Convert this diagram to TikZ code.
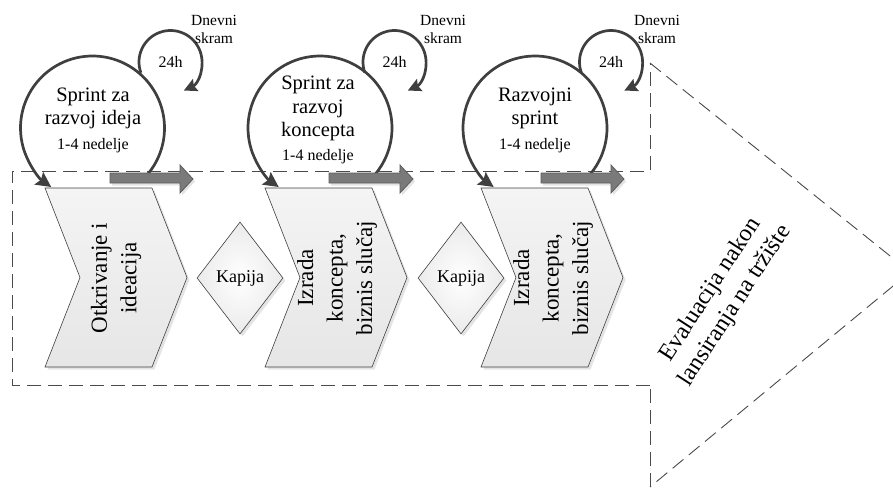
\documentclass[tikz,border=0pt]{standalone}
\usepackage{fontspec}
\setmainfont{Liberation Serif}
\usetikzlibrary{arrows.meta,shadows,calc,shapes.geometric}

\definecolor{ink}{HTML}{3F3F3F}
\definecolor{dashgray}{HTML}{4A4A4A}
\definecolor{barfill}{HTML}{7A7A7A}
\definecolor{baredge}{HTML}{5C5C5C}
\definecolor{panelhi}{HTML}{F4F4F4}
\definecolor{panello}{HTML}{E6E6E6}

\begin{document}
\begin{tikzpicture}[x=1pt, y=-1pt,
  outline/.style={draw=dashgray, line width=0.9pt, dash pattern=on 14pt off 7pt},
  cyclearc/.style={draw=ink, line width=2.7pt, -{Stealth[length=15pt,width=15pt,inset=2.5pt]}},
  scrumarc/.style={draw=ink, line width=2.7pt, -{Stealth[length=13pt,width=13pt,inset=2pt]}},
  panel/.style={draw=ink, line width=0.6pt, top color=panelhi, bottom color=panello,
    drop shadow={shadow xshift=2.5pt, shadow yshift=-2.5pt, opacity=0.3, fill=gray!70}},
  gate/.style={diamond, draw=ink, line width=0.6pt, inner color=white, outer color=gray!16,
    minimum width=86, minimum height=112, inner sep=1pt,
    font=\fontsize{18}{21}\selectfont,
    drop shadow={shadow xshift=2.5pt, shadow yshift=-2.5pt, opacity=0.3, fill=gray!70}},
  bar/.style={draw=baredge, line width=0.8pt, fill=barfill,
    drop shadow={shadow xshift=2pt, shadow yshift=-2.5pt, opacity=0.3, fill=gray!70}},
  sprinttxt/.style={align=center, inner sep=0pt, font=\fontsize{20.5}{23.5}\selectfont},
  durtxt/.style={inner sep=0pt, font=\fontsize{16}{19}\selectfont},
  dailytxt/.style={align=center, inner sep=0pt, font=\fontsize{15.5}{18}\selectfont},
  hourtxt/.style={inner sep=0pt, font=\fontsize{16}{19}\selectfont},
  phasetxt/.style={align=center, rotate=90, inner sep=0pt, font=\fontsize{23}{29.5}\selectfont},
]

\useasboundingbox (0,0) rectangle (893,488);
\clip (0,0) rectangle (893,488);

% dashed block arrow enclosing the whole process
\coordinate (headtop) at (650,63);
\coordinate (headtip) at (910,272);
\coordinate (headbot) at (650,487);
\draw[outline] (650,385) -- (12,385) -- (12,171) -- (650,171) -- (headtop);
\draw[outline] (headtop) -- (headtip);
\draw[outline] (headtip) -- (headbot);
\draw[outline] (headbot) -- (650,385);

% phase chevrons
\path[panel] (45,188) -- (152,188) -- (187,277.5) -- (152,367) -- (45,367) -- (80,277.5) -- cycle;
\path[panel] (265,188) -- (372,188) -- (407,277.5) -- (372,367) -- (265,367) -- (300,277.5) -- cycle;
\path[panel] (481,188) -- (588,188) -- (623,277.5) -- (588,367) -- (481,367) -- (516,277.5) -- cycle;

\node[phasetxt] (phase1) at (116,278) {Otkrivanje i\\ideacija};
\node[phasetxt] (phase2) at (337,278) {Izrada\\koncepta,\\biznis slučaj};
\node[phasetxt] (phase3) at (553,278) {Izrada\\koncepta,\\biznis slučaj};

% gates
\node[gate] (gate1) at (240,278) {Kapija};
\node[gate] (gate2) at (461,278) {Kapija};

% launch evaluation
\node[rotate=57, align=center, inner sep=0pt, font=\fontsize{24}{29}\selectfont]
  (launch) at (723,298) {Evaluacija nakon\\lansiranja na tržište};

% sprint cycles
\coordinate (c1) at (92.5,128);
\coordinate (c2) at (320,128);
\coordinate (c3) at (535,128);
\coordinate (l1) at (170.5,62);
\coordinate (l2) at (394.5,62);
\coordinate (l3) at (611,62);

\draw[cyclearc] ($(c1)+(40:72)$) arc[start angle=40, end angle=-235, radius=72];
\draw[cyclearc] ($(c2)+(40:72)$) arc[start angle=40, end angle=-235, radius=72];
\draw[cyclearc] ($(c3)+(40:72)$) arc[start angle=40, end angle=-235, radius=72];

\draw[scrumarc] ($(l1)+(160:31.5)$) arc[start angle=160, end angle=425, radius=31.5];
\draw[scrumarc] ($(l2)+(160:31.5)$) arc[start angle=160, end angle=425, radius=31.5];
\draw[scrumarc] ($(l3)+(160:31.5)$) arc[start angle=160, end angle=425, radius=31.5];

\node[sprinttxt] (sprint1) at (93,108.5) {Sprint za\\razvoj ideja};
\node[sprinttxt] (sprint2) at (318,108.5) {Sprint za\\razvoj\\koncepta};
\node[sprinttxt] (sprint3) at (535,108.5) {Razvojni\\sprint};
\node[durtxt] (dur1) at (93,146) {1-4 nedelje};
\node[durtxt] (dur2) at (318,157) {1-4 nedelje};
\node[durtxt] (dur3) at (535,146) {1-4 nedelje};

\node[hourtxt] (hour1) at (l1) {24h};
\node[hourtxt] (hour2) at (l2) {24h};
\node[hourtxt] (hour3) at (l3) {24h};
\node[dailytxt] (daily1) at (214,29) {Dnevni\\skram};
\node[dailytxt] (daily2) at (443,29) {Dnevni\\skram};
\node[dailytxt] (daily3) at (657,29) {Dnevni\\skram};

% hand-over arrows between sprints
\path[bar] (110,173) -- (180,173) -- (180,165) -- (193,179) -- (180,193) -- (180,183) -- (110,183) -- cycle;
\path[bar] (329,173) -- (400,173) -- (400,165) -- (413,179) -- (400,193) -- (400,183) -- (329,183) -- cycle;
\path[bar] (541,173) -- (611,173) -- (611,165) -- (624,179) -- (611,193) -- (611,183) -- (541,183) -- cycle;

\end{tikzpicture}
\end{document}
